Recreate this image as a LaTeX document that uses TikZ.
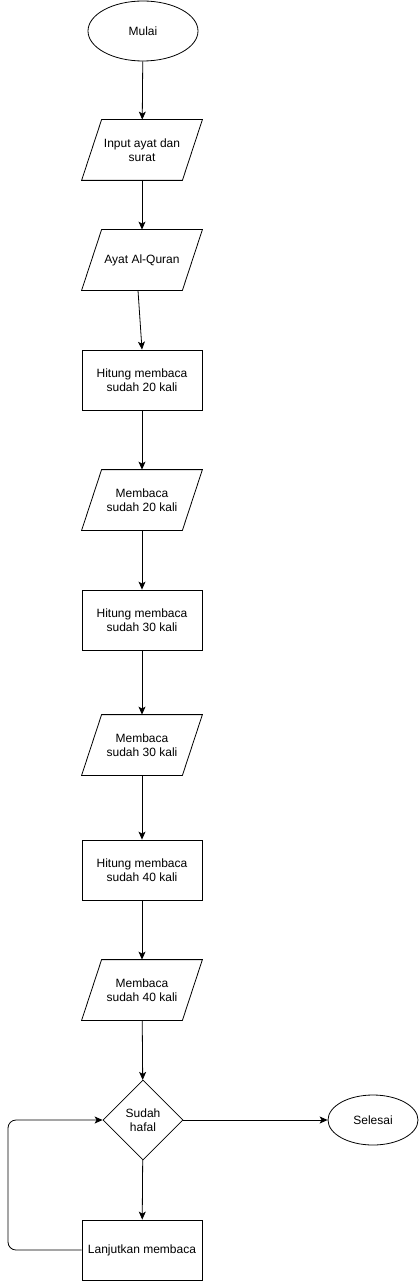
\documentclass[tikz,border=0pt]{standalone}
\usepackage{fontspec}
\setmainfont{Liberation Sans}
\usetikzlibrary{arrows.meta}
\usetikzlibrary{shapes.geometric}

\begin{document}
\begin{tikzpicture}[x=1pt, y=-1pt,
	>={Stealth[width=7pt,length=8pt,inset=2pt]},
    base/.style = {line width=0.8pt, align=center,
                   font=\fontsize{12}{14}\selectfont},
    terminal/.style = {base, draw=black, ellipse, minimum width=110pt, minimum height=60pt},
    io/.style = {base, rectangle, minimum width=120pt, minimum height=60pt},
    proses/.style = {base, draw=black, rectangle, minimum width=120pt, minimum height=60pt},
    keputusan/.style = {base, draw=black, diamond, aspect=1, minimum width=80pt, minimum height=80pt}]
  \useasboundingbox (0,0) rectangle (418,1281);

  \node (mulai) [terminal] at (143,31) {Mulai};
  \node (input) [io] at (142,150) {Input ayat dan\\surat};
  \node (ayat) [io] at (142,260) {Ayat Al-Quran};
  \node (hitung20) [proses] at (142,380) {Hitung membaca\\sudah 20 kali};
  \node (baca20) [io] at (142,500) {Membaca\\sudah 20 kali};
  \node (hitung30) [proses] at (142,620) {Hitung membaca\\sudah 30 kali};
  \node (baca30) [io] at (142,745) {Membaca\\sudah 30 kali};
  \node (hitung40) [proses] at (142,870) {Hitung membaca\\sudah 40 kali};
  \node (baca40) [io] at (142,990) {Membaca\\sudah 40 kali};
  \node (hafal) [keputusan] at (143,1120) {Sudah\\hafal};
  \node (selesai) [terminal, minimum width=90pt, minimum height=50pt] at (373,1120) {Selesai};
  \node (lanjut) [proses] at (142,1250) {Lanjutkan membaca};
  \coordinate (belok) at (8,1250);

  % jajaran genjang untuk input/output
  \foreach \n in {input, ayat, baca20, baca30, baca40}
    \draw[line width=0.8pt] ([xshift=20pt]\n.north west) -- (\n.north east)
      -- ([xshift=-20pt]\n.south east) -- (\n.south west) -- cycle;

  \path[->, line width=0.8pt]
    (mulai) edge (input)
    (input) edge (ayat)
    ([xshift=-4pt]ayat.south) edge (hitung20.north)
    (hitung20) edge (baca20)
    (baca20) edge (hitung30)
    (hitung30) edge (baca30)
    (baca30) edge (hitung40)
    (hitung40) edge (baca40)
    (baca40) edge (hafal)
    (hafal) edge (selesai)
    (hafal) edge (lanjut);

  \draw[->, line width=0.8pt, rounded corners=8pt]
    (lanjut.west) -- (belok) |- (hafal.west);
\end{tikzpicture}
\end{document}
